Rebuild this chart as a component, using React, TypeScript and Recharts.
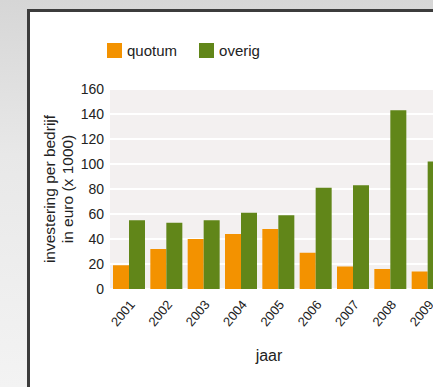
import { BarChart, Bar, XAxis, YAxis, CartesianGrid, Legend } from 'recharts';

const years = ['2001', '2002', '2003', '2004', '2005', '2006', '2007', '2008', '2009'];
const quotum = [19, 32, 40, 44, 48, 29, 18, 16, 14];
const overig = [55, 53, 55, 61, 59, 81, 83, 143, 102];
const yTicks = [0, 20, 40, 60, 80, 100, 120, 140, 160];

const ORANGE = '#f39200';
const GREEN = '#618619';
const FONT = '"Liberation Sans", Arial, sans-serif';

const data = years.map((jaar, i) => ({ jaar, quotum: quotum[i], overig: overig[i] }));

function XTick({ x, y, payload }: { x?: number; y?: number; payload?: { value: string } }) {
  const tx = (x ?? 0) + 7;
  const ty = (y ?? 0) + 16;
  return (
    <text x={tx} y={ty} transform={`rotate(-50, ${tx}, ${ty})`} textAnchor="end"
      fontSize={13} fontFamily={FONT} fill="#222">
      {payload?.value}
    </text>
  );
}

function LegendContent() {
  const items = [
    { name: 'quotum', color: ORANGE },
    { name: 'overig', color: GREEN },
  ];
  return (
    <div style={{ display: 'flex', alignItems: 'center', fontFamily: FONT, fontSize: 15, color: '#222' }}>
      {items.map(it => (
        <span key={it.name} style={{ display: 'flex', alignItems: 'center', marginRight: 22 }}>
          <span style={{ width: 15, height: 15, background: it.color, display: 'inline-block', marginRight: 5 }} />
          {it.name}
        </span>
      ))}
    </div>
  );
}

export default function App() {
  return (
    <div style={{
      position: 'absolute', left: 0, top: 0, width: 433, height: 387, overflow: 'hidden',
      background: 'linear-gradient(to bottom, #d6d6d6 0%, #e8e8e8 40%, #f3f3f3 100%)',
    }}>
      {/* white panel with dark border, cut off on the right and bottom */}
      <div style={{
        position: 'absolute', left: 27, top: 9, width: 500, height: 500,
        borderLeft: '3px solid #3c3c3c', borderTop: '3px solid #3c3c3c', background: '#fff',
      }} />
      <div style={{ position: 'absolute', left: 0, top: 0 }}>
        <BarChart width={456} height={387} data={data} barGap={0}
          margin={{ top: 89, right: 10, bottom: 38, left: 80 }}>
          <CartesianGrid vertical={false} fill="#f3f0f0" stroke="#fff" strokeWidth={2} />
          <XAxis dataKey="jaar" axisLine={false} tickLine={false} tickSize={0} tickMargin={0}
            height={60} interval={0} tick={<XTick />}
            label={({ viewBox }: any) => (
              <text x={viewBox.x + 159} y={viewBox.y + 72} textAnchor="middle"
                fontSize={16} fontFamily={FONT} fill="#222">jaar</text>
            )} />
          <YAxis domain={[0, 160]} ticks={yTicks} width={30} axisLine={false} tickLine={false}
            tickSize={4} tick={{ fontSize: 14, fontFamily: FONT, fill: '#222' }}
            label={({ viewBox }: any) => {
              const cy = viewBox.y + viewBox.height / 2;
              return (
                <g fontSize={15.5} fontFamily={FONT} fill="#222">
                  <text x={55} y={cy} transform={`rotate(-90, 55, ${cy})`} textAnchor="middle">
                    investering per bedrijf
                  </text>
                  <text x={73} y={cy} transform={`rotate(-90, 73, ${cy})`} textAnchor="middle">
                    in euro (x 1000)
                  </text>
                </g>
              );
            }} />
          <Legend verticalAlign="middle" align="center" content={<LegendContent />}
            wrapperStyle={{ top: 42, left: 107, width: 'auto' }} />
          <Bar dataKey="quotum" name="quotum" fill={ORANGE} barSize={16} isAnimationActive={false} />
          <Bar dataKey="overig" name="overig" fill={GREEN} barSize={16} isAnimationActive={false} />
        </BarChart>
      </div>
    </div>
  );
}
